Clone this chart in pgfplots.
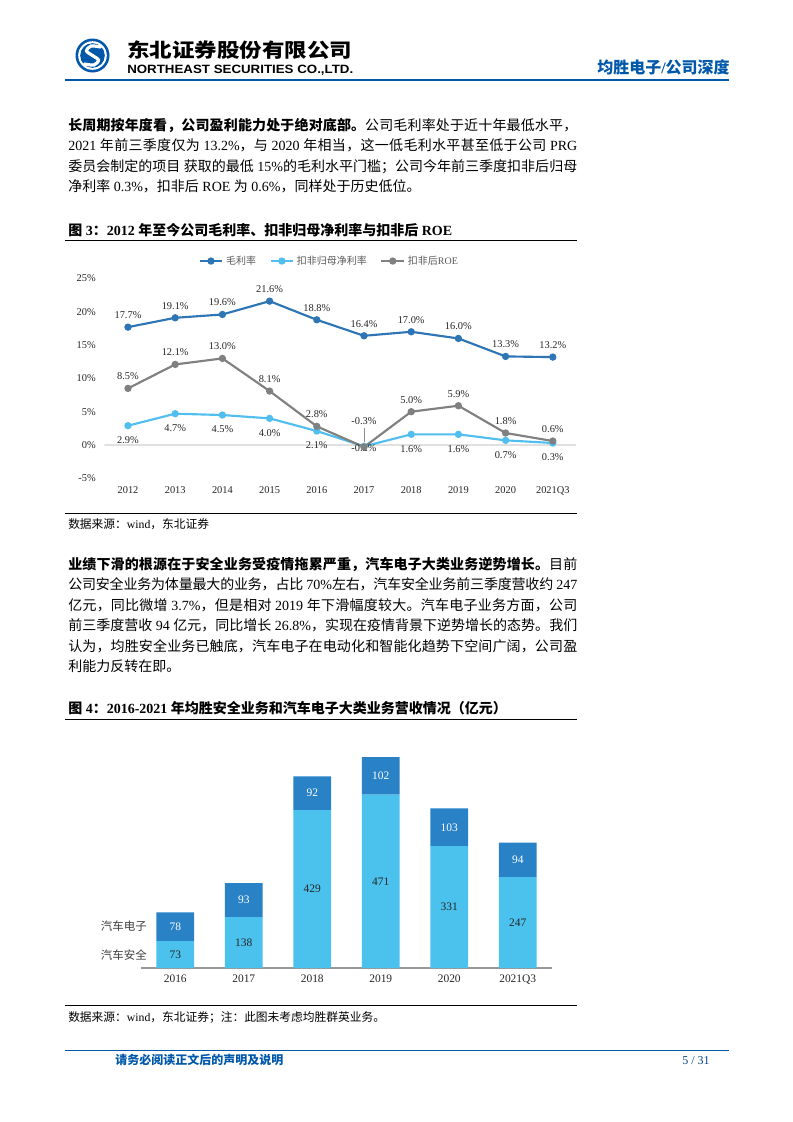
\documentclass[border=0pt]{standalone}
\usepackage{graphicx}
\usepackage{pgfplots}
\usepackage{pgfplotstable}
\pgfplotsset{compat=1.18}
\usepackage{fontspec}
\setmainfont{Liberation Serif}
\newfontfamily\cjk{Noto Sans CJK SC}
\newfontfamily\hdsans{Liberation Sans}

% switch to the CJK font for Han characters and full-width punctuation
\newXeTeXintercharclass\cjkcls
\newcount\cc
\def\setcls#1#2{\cc=#1\relax\loop\XeTeXcharclass\cc=\cjkcls\relax\ifnum\cc<#2\relax\advance\cc by 1\repeat}
\setcls{"4E00}{"9FFF}
\setcls{"3000}{"303F}
\setcls{"FF00}{"FFEF}
\def\latinfam{\rmfamily}
\def\cjkglue{\hskip 0pt plus 0.2em minus 0.03em\relax}
\XeTeXinterchartoks 0 \cjkcls = {\cjk}
\XeTeXinterchartoks 4095 \cjkcls = {\cjk}
\XeTeXinterchartoks \cjkcls 0 = {\latinfam}
\XeTeXinterchartoks \cjkcls 4095 = {\latinfam}
\XeTeXinterchartoks \cjkcls \cjkcls = {\cjkglue\cjk}
\XeTeXinterchartokenstate=1

\definecolor{gm}{RGB}{46,117,182}
\definecolor{nm}{RGB}{80,190,238}
\definecolor{roe}{RGB}{128,128,128}
\definecolor{safe}{RGB}{75,194,238}
\definecolor{elec}{RGB}{41,130,198}
\definecolor{hdblue}{RGB}{0,88,170}

\pgfplotstableread{
x gm nm roe nmdy roedy
0 17.7 2.9 8.5 0 0
1 19.1 4.7 12.1 0 0
2 19.6 4.5 13.0 0 0
3 21.6 4.0 8.1 0 0
4 18.8 2.1 2.8 0 0
5 16.4 -0.2 -0.3 9.2 10.5
6 17.0 1.6 5.0 0 0
7 16.0 1.6 5.9 0 0
8 13.3 0.7 1.8 0 0
9 13.2 0.3 0.6 0 0
}\ratios

\pgfplotstableread{
x safe elec
0 73 78
1 138 93
2 429 92
3 471 102
4 331 103
5 247 94
}\biz

% justified body line and last line of a paragraph
\newcommand\jl[2]{\node[anchor=base west, inner sep=0] at (68,#1) {\fontsize{10.5}{12}\selectfont\hbox to 381.75pt{#2}};}
\newcommand\lastl[2]{\node[anchor=base west, inner sep=0] at (68,#1) {\fontsize{10.5}{12}\selectfont #2};}

\begin{document}
\begin{tikzpicture}
\begin{scope}[x=0.75pt,y=-0.75pt]
\fill[white] (0,0) rectangle (793,1122);

% header
\fill[hdblue] (92.5,55.5) circle (17);
\fill[white] (92.5,55.5) circle (14.3);
\fill[hdblue] (92.5,55.5) circle (12.3);
\draw[white, line width=2.4pt, line cap=round] plot[smooth] coordinates {(100.5,47) (91,46) (86.5,51) (92.5,55.5) (98.5,60) (94,65) (84.5,64)};
\node[anchor=west, inner sep=0] at (127,50.5) {\resizebox{168.75pt}{12.6pt}{\cjk\bfseries 东北证券股份有限公司}};
\node[anchor=west, inner sep=0] at (127,70) {\resizebox{169.5pt}{6.3pt}{\def\latinfam{\hdsans}\hdsans\bfseries NORTHEAST SECURITIES CO.,LTD.}};
\node[anchor=east, inner sep=0, text=hdblue] at (730,67) {\fontsize{12}{14}\selectfont\bfseries 均胜电子/公司深度};
\draw[hdblue, line width=1.1pt] (65,80) -- (729,80);

% paragraph 1
\jl{130}{\textbf{长周期按年度看，公司盈利能力处于绝对底部。}公司毛利率处于近十年最低水平，}
\jl{150.5}{2021 年前三季度仅为 13.2\%，与 2020 年相当，这一低毛利水平甚至低于公司 PRG}
\jl{171}{委员会制定的项目 获取的最低 15\%的毛利水平门槛；公司今年前三季度扣非后归母}
\lastl{191.5}{净利率 0.3\%，扣非后 ROE 为 0.6\%，同样处于历史低位。}

% figure 3 title and source
\node[anchor=base west, inner sep=0] at (68,235) {\fontsize{10.5}{12}\selectfont\bfseries 图 3：2012 年至今公司毛利率、扣非归母净利率与扣非后 ROE};
\draw[black, line width=0.75pt] (65,240) -- (577,240);
\draw[black, line width=0.75pt] (65,513.5) -- (577,513.5);
\node[anchor=base west, inner sep=0] at (68,528.5) {\fontsize{8.8}{10}\selectfont 数据来源：wind，东北证券};

% paragraph 2
\jl{569}{\textbf{业绩下滑的根源在于安全业务受疫情拖累严重，汽车电子大类业务逆势增长。}目前}
\jl{589.5}{公司安全业务为体量最大的业务，占比 70\%左右，汽车安全业务前三季度营收约 247}
\jl{610}{亿元，同比微增 3.7\%，但是相对 2019 年下滑幅度较大。汽车电子业务方面，公司}
\jl{630.5}{前三季度营收 94 亿元，同比增长 26.8\%，实现在疫情背景下逆势增长的态势。我们}
\jl{651}{认为，均胜安全业务已触底，汽车电子在电动化和智能化趋势下空间广阔，公司盈}
\lastl{671.5}{利能力反转在即。}

% figure 4 title and source
\node[anchor=base west, inner sep=0] at (68,713.5) {\fontsize{10.5}{12}\selectfont\bfseries 图 4：2016-2021 年均胜安全业务和汽车电子大类业务营收情况（亿元）};
\draw[black, line width=0.75pt] (65,719) -- (577,719);
\draw[black, line width=0.75pt] (65,1005) -- (577,1005);
\node[anchor=base west, inner sep=0] at (68,1021) {\fontsize{8.8}{10}\selectfont 数据来源：wind，东北证券；注：此图未考虑均胜群英业务。};

% series names of figure 4
\node[anchor=east, inner sep=0, text=black!75] at (147,926) {\fontsize{8.6}{10}\selectfont 汽车电子};
\node[anchor=east, inner sep=0, text=black!75] at (147,954.6) {\fontsize{8.6}{10}\selectfont 汽车安全};

% footer
\draw[hdblue, line width=1.1pt] (65,1050.7) -- (729,1050.7);
\node[anchor=base west, inner sep=0, text=hdblue] at (115,1064.5) {\fontsize{9}{11}\selectfont\bfseries 请务必阅读正文后的声明及说明};
\node[anchor=base east, inner sep=0, text=hdblue!80!black] at (710,1064.5) {\fontsize{9}{11}\selectfont 5 / 31};

\coordinate (ax1) at (104.4,478.3);
\coordinate (ax2) at (141,968);
\end{scope}

% figure 3
\begin{axis}[
    at={(ax1)}, anchor=south west, scale only axis,
    width=354pt, height=149.85pt,
    xmin=-0.5, xmax=9.5, ymin=-5, ymax=25,
    axis line style={draw=none}, tick style={draw=none},
    xtick={0,...,9},
    xticklabels={2012,2013,2014,2015,2016,2017,2018,2019,2020,2021Q3},
    ytick={-5,0,5,10,15,20,25},
    yticklabel={\pgfmathprintnumber{\tick}\%},
    /pgf/number format/assume math mode=true,
    ticklabel style={font=\fontsize{7.8}{9}\selectfont, text=black!85, inner sep=0pt},
    xticklabel style={yshift=-6.1pt},
    yticklabel style={xshift=-6.3pt},
    legend columns=3,
    legend style={at={(0.477,1)}, anchor=center, yshift=13.1pt, draw=none, fill=none,
        font=\fontsize{7.5}{9}\selectfont, text=black!65,
        /tikz/every even column/.append style={column sep=8pt}},
    lab/.style={line width=1.6pt, mark=*, mark size=1.9pt,
        nodes near coords={\pgfmathprintnumber[fixed,fixed zerofill,precision=1]{\pgfplotspointmeta}\%},
        every node near coord/.append style={font=\fontsize{7.8}{9}\selectfont, text=black!85, inner sep=0pt}},
]
\addplot[forget plot, draw=black!12, line width=1.2pt, mark=none] coordinates {(-0.5,0) (9.5,0)};
\addplot[color=gm, lab,
    every node near coord/.append style={anchor=south, yshift=5.6pt}]
    table[x=x, y=gm] {\ratios};
\addlegendentry{毛利率}
\addplot[color=nm, lab,
    visualization depends on={\thisrow{nmdy} \as \dy},
    every node near coord/.append style={anchor=north, yshift=-7.35pt, yshift={\dy*1pt}}]
    table[x=x, y=nm] {\ratios};
\addlegendentry{扣非归母净利率}
\addplot[color=roe, lab,
    visualization depends on={\thisrow{roedy} \as \dy},
    every node near coord/.append style={anchor=south, yshift=5.6pt, yshift={\dy*1pt}}]
    table[x=x, y=roe] {\ratios};
\addlegendentry{扣非后ROE}
\draw[black!45, line width=0.5pt] (axis cs:5,0.45) -- (axis cs:5,2.55);
\end{axis}

% figure 4
\begin{axis}[
    at={(ax2)}, anchor=south west, scale only axis,
    width=308.25pt, height=165.6pt,
    xmin=-0.5, xmax=5.5, ymin=0, ymax=600,
    ybar stacked, bar width=28.35pt,
    axis x line*=bottom, axis y line=none,
    x axis line style={-, draw=black!40, line width=1pt},
    xtick={0,...,5}, xtick style={draw=none},
    xticklabels={2016,2017,2018,2019,2020,2021Q3},
    /pgf/number format/assume math mode=true,
    xticklabel style={font=\fontsize{8.6}{10}\selectfont, text=black!85, inner sep=0pt, yshift=-5.3pt},
    nodes near coords={\pgfmathprintnumber{\pgfplotspointmeta}},
]
\addplot[fill=safe, draw=none, point meta=\thisrow{safe},
    every node near coord/.append style={font=\fontsize{8.6}{10}\selectfont, anchor=center, inner sep=0pt, text=black!85}]
    table[x=x, y=safe] {\biz};
\addplot[fill=elec, draw=none, point meta=\thisrow{elec},
    every node near coord/.append style={font=\fontsize{8.6}{10}\selectfont, anchor=center, inner sep=0pt, text=white}]
    table[x=x, y=elec] {\biz};
\end{axis}
\end{tikzpicture}
\end{document}
